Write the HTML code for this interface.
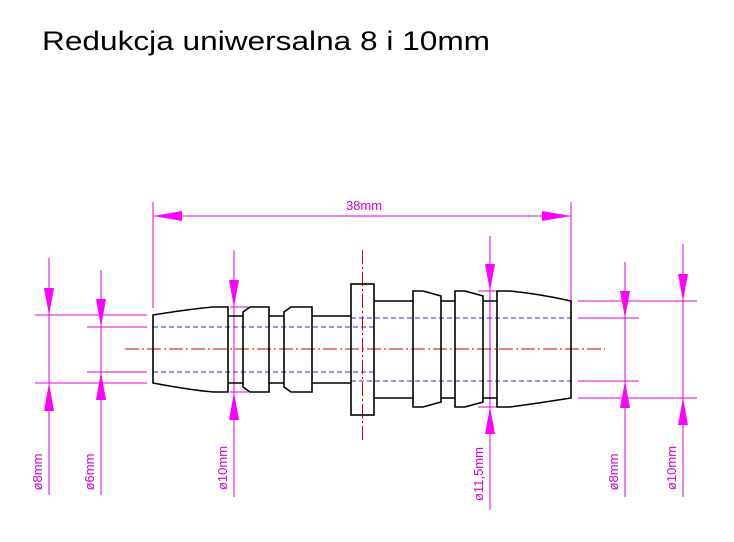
<!DOCTYPE html>
<html><head><style>body{margin:0;background:#fff;width:734px;height:537px;overflow:hidden}</style></head><body>
<svg width="734" height="537" xmlns="http://www.w3.org/2000/svg">
<rect width="734" height="537" fill="#fff"/>
<text x="42" y="50" font-family="Liberation Sans, sans-serif" font-size="27" fill="#000" textLength="448" lengthAdjust="spacingAndGlyphs">Redukcja uniwersalna 8 i 10mm</text>
<g stroke="#e000e0" stroke-width="1" fill="none">
<line x1="153" y1="202" x2="153" y2="308"/><line x1="571" y1="202" x2="571" y2="301"/>
<line x1="153" y1="216" x2="571" y2="216"/>
<line x1="49" y1="258" x2="49" y2="495"/><line x1="101" y1="270" x2="101" y2="495"/>
<line x1="35" y1="315" x2="147" y2="315"/><line x1="35" y1="383" x2="147" y2="383"/>
<line x1="87" y1="327" x2="147" y2="327"/><line x1="87" y1="372" x2="147" y2="372"/>
<line x1="234" y1="250" x2="234" y2="497"/><line x1="230" y1="307" x2="248" y2="307"/><line x1="230" y1="392" x2="248" y2="392"/>
<line x1="490" y1="236" x2="490" y2="510"/><line x1="478" y1="291" x2="497" y2="291"/><line x1="478" y1="407" x2="497" y2="407"/>
<line x1="625" y1="262" x2="625" y2="497"/><line x1="683" y1="244" x2="683" y2="497"/>
<line x1="578" y1="301" x2="697" y2="301"/><line x1="578" y1="398" x2="697" y2="398"/>
<line x1="578" y1="318" x2="639" y2="318"/><line x1="578" y1="381" x2="639" y2="381"/>
</g>
<g fill="#ff00ff">
<polygon points="153,216 182,211 182,221"/><polygon points="571,216 542,211 542,221"/>
<polygon points="49,315 44,288 54,288"/><polygon points="49,383 44,411 54,411"/>
<polygon points="101,327 96,299 106,299"/><polygon points="101,372 96,400 106,400"/>
<polygon points="234,307 229,280 239,280"/><polygon points="234,392 229,420 239,420"/>
<polygon points="490,291 485,264 495,264"/><polygon points="490,407 485,434 495,434"/>
<polygon points="625,318 620,291 630,291"/><polygon points="625,381 620,408 630,408"/>
<polygon points="683,301 678,274 688,274"/><polygon points="683,398 678,425 688,425"/>
</g>
<g font-family="Liberation Sans, sans-serif" font-size="13" fill="#d000d0">
<text x="364" y="210" text-anchor="middle">38mm</text>
<text transform="translate(42,472) rotate(-90)" text-anchor="middle">ø8mm</text>
<text transform="translate(94,472) rotate(-90)" text-anchor="middle">ø6mm</text>
<text transform="translate(227,468) rotate(-90)" text-anchor="middle">ø10mm</text>
<text transform="translate(483,474) rotate(-90)" text-anchor="middle">ø11,5mm</text>
<text transform="translate(618,472) rotate(-90)" text-anchor="middle">ø8mm</text>
<text transform="translate(676,468) rotate(-90)" text-anchor="middle">ø10mm</text>
</g>
<g stroke="#cc0000" stroke-width="1" stroke-dasharray="14,3,2,3">
<line x1="125" y1="349" x2="605" y2="349"/>
<line x1="362.5" y1="250" x2="362.5" y2="440"/>
</g>
<g stroke="#3030d0" stroke-width="1" stroke-dasharray="5,3">
<line x1="153" y1="327" x2="374" y2="327"/><line x1="153" y1="372" x2="374" y2="372"/>
<line x1="351" y1="318" x2="571" y2="318"/><line x1="351" y1="381" x2="571" y2="381"/>
</g>
<g stroke="#000" stroke-width="1.6" fill="none" stroke-linejoin="miter">
<path d="M153,315 Q190,309 213,307 L228,307 L228,392 L213,392 Q190,390 153,383 Z"/>
<path d="M228,316 H243 M228,383 H243"/>
<path d="M243,312 L250,307 H269 V392 H250 L243,387 Z"/>
<path d="M269,316 H284 M269,383 H284"/>
<path d="M284,312 L291,307 H312 V392 H291 L284,387 Z"/>
<path d="M312,316 H351 M312,383 H351"/>
<rect x="351" y="284" width="23" height="131"/>
<path d="M374,301 H413 M374,398 H413"/>
<path d="M413,291 H423 L441,296 V402 L423,407 H413 Z"/>
<path d="M441,301 H455 M441,398 H455"/>
<path d="M455,291 H465 L483,296 V402 L465,407 H455 Z"/>
<path d="M483,301 H497 M483,398 H497"/>
<path d="M497,291 H510 Q540,294 571,301 V398 Q540,403 510,407 H497 Z"/>
</g>
</svg>
</body></html>
